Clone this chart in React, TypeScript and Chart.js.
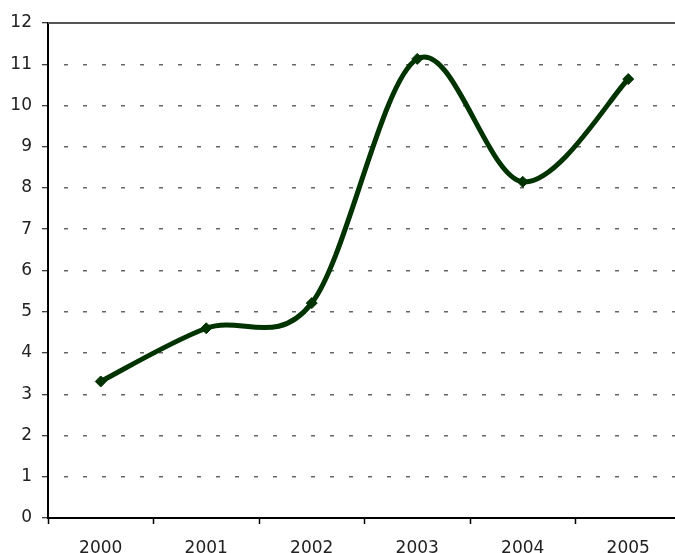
import React, { useEffect, useRef } from "react";
import { Chart, registerables } from "chart.js";

Chart.register(...registerables);

const categories = ["2000", "2001", "2002", "2003", "2004", "2005"];
const values = [3.31, 4.6, 5.21, 11.13, 8.15, 10.64];
const yMin = 0;
const yMax = 12;
const yStep = 1;

// Excel-like smoothing: uniform Catmull-Rom control points (1/6 factor)
const smoothPlugin = {
  id: "excelSmooth",
  beforeDatasetDraw(chart: any, args: any) {
    const meta = chart.getDatasetMeta(args.index);
    const line = meta.dataset;
    if (!line) return;
    line.updateControlPoints(chart.chartArea, "x");
    const pts = meta.data;
    const n = pts.length;
    for (let i = 0; i < n; i++) {
      const p = pts[i];
      const prev = pts[Math.max(0, i - 1)];
      const next = pts[Math.min(n - 1, i + 1)];
      const dx = (next.x - prev.x) / 6;
      const dy = (next.y - prev.y) / 6;
      p.cp1x = p.x - dx;
      p.cp1y = p.y - dy;
      p.cp2x = p.x + dx;
      p.cp2y = p.y + dy;
    }
    line._path = undefined;
  },
};

const topLinePlugin = {
  id: "topLine",
  afterDraw(chart: any) {
    const { ctx, chartArea } = chart;
    ctx.save();
    ctx.strokeStyle = "#555555";
    ctx.lineWidth = 2;
    ctx.beginPath();
    ctx.moveTo(chartArea.left, chartArea.top);
    ctx.lineTo(chartArea.right, chartArea.top);
    ctx.stroke();
    ctx.restore();
  },
};

export default function App() {
  const ref = useRef<HTMLCanvasElement>(null);
  useEffect(() => {
    document.body.style.margin = "0";
    const chart = new Chart(ref.current!, {
      type: "line",
      data: {
        labels: categories,
        datasets: [
          {
            data: values,
            borderColor: "#003300",
            backgroundColor: "#003300",
            borderWidth: 5,
            tension: 0.3,
            pointStyle: "rectRot",
            pointRadius: 5.5,
            pointHoverRadius: 5.5,
            pointBackgroundColor: "#003300",
            pointBorderColor: "#003300",
            pointBorderWidth: 1,
            fill: false,
            clip: false as any,
          },
        ],
      },
      options: {
        animation: false,
        responsive: false,
        maintainAspectRatio: false,
        elements: { line: { capBezierPoints: false } },
        layout: { autoPadding: false, padding: { top: 23, left: 0, right: 0, bottom: 0 } },
        plugins: {
          legend: { display: false },
          tooltip: { enabled: false },
          title: { display: false },
        },
        scales: {
          x: {
            offset: true,
            grid: {
              offset: true,
              drawOnChartArea: false,
              drawTicks: true,
              tickLength: 6,
              tickColor: "#000000",
              tickWidth: 1.5,
            },
            border: { display: true, color: "#000000", width: 2 },
            ticks: {
              color: "#222222",
              font: { family: "DejaVu Sans", size: 17 },
              padding: 14,
              maxRotation: 0,
            },
            afterFit(scale: any) {
              scale.height = 35;
            },
          },
          y: {
            min: yMin,
            max: yMax,
            grid: {
              color: "#666666",
              lineWidth: 1.5,
              tickLength: 6,
              tickColor: "#000000",
              tickWidth: 1,
              tickBorderDash: [],
            },
            border: { display: true, color: "#000000", width: 2, dash: [4, 15], dashOffset: -15 } as any,
            ticks: {
              stepSize: yStep,
              color: "#222222",
              font: { family: "DejaVu Sans", size: 17 },
              padding: 10,
            },
            afterFit(scale: any) {
              scale.width = 48;
            },
          },
        },
      },
      plugins: [smoothPlugin, topLinePlugin],
    });
    return () => chart.destroy();
  }, []);
  return (
    <div style={{ position: "fixed", left: 0, top: 0, width: 675, height: 553, overflow: "hidden", background: "#fff" }}>
      <div style={{ position: "relative", width: 681, height: 553 }}>
        <canvas ref={ref} width={681} height={553} style={{ display: "block", width: 681, height: 553 }} />
      </div>
    </div>
  );
}
